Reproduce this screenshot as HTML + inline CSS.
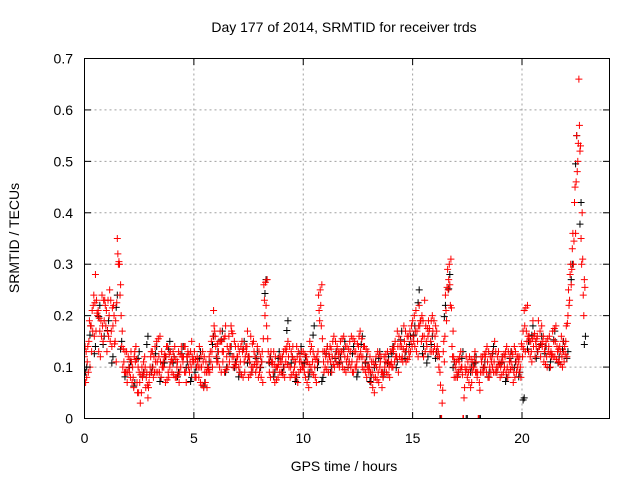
<!DOCTYPE html>
<html><head><meta charset="utf-8"><style>
body{margin:0;background:#fff;}
svg text{font-family:"Liberation Sans",sans-serif;font-size:14px;fill:#000;}
</style></head><body>
<svg id="chart" width="640" height="480" xmlns="http://www.w3.org/2000/svg">
<rect width="640" height="480" fill="#fff"/>
<text x="344" y="32" text-anchor="middle">Day 177 of 2014, SRMTID for receiver trds</text>
<text transform="translate(19,238) rotate(-90)" text-anchor="middle">SRMTID / TECUs</text>
<text x="344" y="471" text-anchor="middle">GPS time / hours</text>
<g id="grid"></g>
<g id="marks" clip-path="url(#clip)"></g>
<defs><clipPath id="clip"><rect x="84" y="58" width="526" height="361"/></clipPath></defs>
<rect x="84.5" y="58.5" width="525" height="360" fill="none" stroke="#000" stroke-width="1"/>
<g id="ticks"></g>
</svg>
<script>
const xTicks=[0,5,10,15,20];
const yTicks=[0,0.1,0.2,0.3,0.4,0.5,0.6,0.7];
const yTickLabels=["0","0.1","0.2","0.3","0.4","0.5","0.6","0.7"];
const redA=[12,8,15,18,22,28,20,17,24,19, 21,16,23,18,15,35,30,14,11,9, 12,8,10,13,7,9,5,11,6,4, 10,13,9,15,12,8,11,7,14,10, 9,12,8,13,10,11,14,12,9,15, 11,8,10,7,13,9,6,12,15,21, 14,11,17,13,9,12,16,18,10,14, 12,9,15,11,13,8,16,10,12,14, 9,11,26,22,13,8,11,7,10,12, 9,13,11,15,8,12,10,14,9,11, 13,8,11,15,9,12,7,24,22,13, 10,14,12,9,16,11,13,15,10,12, 14,11,16,9,13,12,17,10,14,8, 9,7,11,8,13,10,6,12,9,11, 13,10,15,17,12,14,18,11,16,13, 19,14,17,22,15,12,18,16,13,20, 14,17,10,0,13,24,29,26,14,8, 11,9,13,0,10,8,12,7,10,11, 0,9,12,10,14,8,11,9,13,10, 8,12,10,14,9,11,7,13,10,12, 14,21,17,13,15,19,12,16,14,18, 11,15,13,10,17,12,14,11,16,13, 15,20,28,33,42,55,66,35,24];
const redB=[7,14,10,21,16,23,13,19,15,22, 17,25,14,20,11,30,26,10,13,7, 9,11,6,14,10,3,8,12,9,7, 13,8,11,9,16,10,12,14,8,11, 13,8,11,9,12,14,7,10,13,11, 8,12,14,10,6,11,9,13,10,17, 11,15,9,13,18,10,14,12,15,11, 10,14,8,12,17,11,9,13,11,8, 12,7,20,27,9,11,13,10,8,11, 12,8,14,10,13,9,11,7,12,10, 9,12,6,10,13,8,11,19,26,9, 13,9,11,15,12,14,10,13,16,9, 10,13,9,15,11,16,12,14,9,13, 12,9,5,10,7,12,8,11,13,8, 10,14,12,9,15,11,13,16,12,18, 15,21,12,19,16,23,14,17,19,13, 18,12,9,3,11,19,27,31,17,10, 8,12,10,4,12,9,6,11,13,8, 7,11,9,13,8,12,10,15,9,11, 11,9,13,8,12,10,14,9,11,8, 17,13,22,15,11,16,14,19,12,15, 14,10,16,12,15,18,11,13,10,14, 12,22,26,30,36,50,52,40,27];
const redC=[14,11,19,13,24,17,21,12,18,23, 13,20,17,22,19,32,24,17,9,13, 10,13,8,11,5,7,10,9,8,6, 12,10,14,11,9,13,10,12,9,13, 11,14,10,7,14,12,9,13,11,12, 13,10,8,12,11,7,10,9,13,18, 12,13,15,11,16,14,11,17,12,10, 14,11,13,9,14,12,10,15,9,11, 10,13,23,18,11,13,9,12,10,9, 11,10,13,12,10,14,8,12,11,13, 10,11,9,13,11,10,12,21,18,11, 12,11,14,12,10,13,12,11,13,14, 12,15,11,13,10,14,13,12,11,10, 10,11,8,12,9,11,9,10,11,10, 11,13,12,14,14,12,15,14,13,15, 16,17,15,18,20,16,15,19,15,17, 16,14,12,0,15,21,25,22,12,11, 9,11,10,0,9,11,10,9,12,9, 0,12,10,12,11,10,12,11,10,13, 10,11,12,10,11,13,9,11,12,10, 12,18,15,16,13,14,15,13,17,14, 13,12,14,13,12,15,13,14,12,11, 18,25,30,36,45,48,57,30,20];
const black=[10,18,14,22,16,19,12,24,15,9, 11,7,13,9,16,10,14,8,12,15, 12,9,14,11,8,10,13,7,11,16, 13,17,10,14,11,9,15,12,10,13, 11,27,12,9,13,10,19,12,8,14, 12,9,18,11,8,14,10,13,12,15, 11,14,9,16,12,8,11,13,9,12, 14,11,17,13,16,18,25,14,12,16, 13,0,22,28,11,9,13,0,10,12, 0,11,9,14,10,12,8,13,11,9, 4,15,18,13,16,14,11,17,12,15, 13,30,55,42,16];
const redStep=0.1, blackStep=0.2;
const X=h=>84.5+h*(525/24);
const Y=v=>418.5-v*(360/0.7);
const NS="http://www.w3.org/2000/svg";
const grid=document.getElementById('grid'),ticks=document.getElementById('ticks'),marks=document.getElementById('marks');
function mk(tag,attrs,parent){const e=document.createElementNS(NS,tag);for(const k in attrs)e.setAttribute(k,attrs[k]);parent.appendChild(e);return e;}
xTicks.forEach(t=>{
  const x=X(t);
  if(t>0){const g=mk('line',{x1:x,x2:x,y1:58.5,y2:418.5,stroke:'#a0a0a0','stroke-dasharray':'2,3'},grid);
  
  }
  mk('line',{x1:x,x2:x,y1:418.5,y2:412,stroke:'#000'},ticks);
  mk('line',{x1:x,x2:x,y1:58.5,y2:65,stroke:'#000'},ticks);
  const l=mk('text',{x:x,y:443,'text-anchor':'middle'},ticks);l.textContent=t;
  
  
});
yTicks.forEach((t,i)=>{
  const y=Y(t);
  if(i>0&&i<yTicks.length-1){const g=mk('line',{x1:84.5,x2:609.5,y1:y,y2:y,stroke:'#a0a0a0','stroke-dasharray':'2,3'},grid);
  
  }
  mk('line',{x1:84.5,x2:91,y1:y,y2:y,stroke:'#000'},ticks);
  mk('line',{x1:609.5,x2:603,y1:y,y2:y,stroke:'#000'},ticks);
  const l=mk('text',{x:73,y:y+5,'text-anchor':'end'},ticks);l.textContent=yTickLabels[i];
  
  
});
function cross(h,v,col,name){
  const x=X(h),y=Y(v);
  const p=mk('path',{d:`M${x-3.5} ${y}H${x+3.5}M${x} ${y-3.5}V${y+3.5}`,stroke:col,'stroke-width':1,fill:'none'},marks);
  
  
}
black.forEach((v,i)=>{cross(i*blackStep+0.1,v/100,'#000','black-point');cross(i*blackStep+0.05,(v*0.9)/100,'#000','black-point');});
redA.forEach((v,i)=>cross(i*redStep,v/100,'#ff0000','red-point'));
redB.forEach((v,i)=>cross(i*redStep+0.05,v/100,'#ff0000','red-point'));
redC.forEach((v,i)=>cross(i*redStep+0.025,v/100,'#ff0000','red-point'));
redA.forEach((v,i)=>{const j=Math.min(i+1,redB.length-1);cross(i*redStep+0.075,(v+redB[j])/200,'#ff0000','red-point');});
</script>
</body></html>
